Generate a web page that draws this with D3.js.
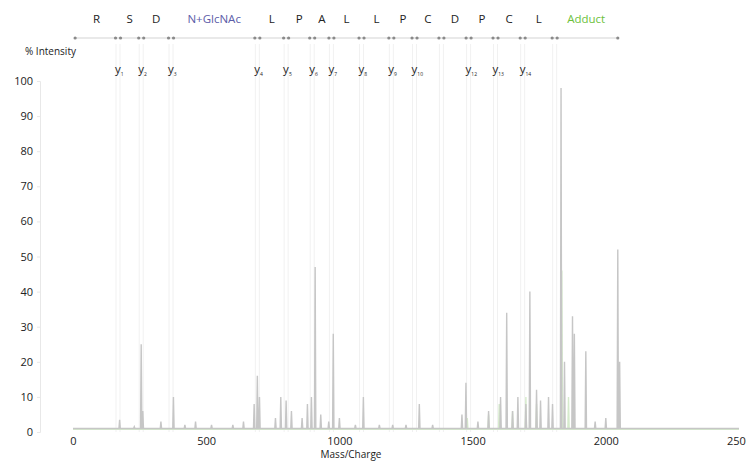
<!DOCTYPE html>
<html>
<head>
<meta charset="utf-8">
<script src="https://cdn.jsdelivr.net/npm/d3@7"></script>
<style>
  body { margin: 0; background: #fff; }
  text { font-family: "Open Sans", "Noto Sans", sans-serif; }
</style>
</head>
<body>
<div id="chart"></div>
<script>
// x / y ticks
const xTicks = [0, 500, 1000, 1500, 2000, 2500];
const yTicks = [0, 10, 20, 30, 40, 50, 60, 70, 80, 90, 100];

// sequence ladder: boundaries (m/z) between residues
const boundaries = [8, 169, 256, 368, 692, 800, 898, 970, 1083, 1195, 1282, 1383, 1485, 1586, 1688, 1808, 2045];
const residues = ['R', 'S', 'D', 'N+GlcNAc', 'L', 'P', 'A', 'L', 'L', 'P', 'C', 'D', 'P', 'C', 'L', 'Adduct'];

// y ions
const yIonNames = ['1', '2', '3', '4', '5', '6', '7', '8', '9', '10', '12', '13', '14'];
const yIonMz = [169, 256, 368, 692, 800, 898, 970, 1083, 1195, 1282, 1485, 1586, 1688];

// main spectrum (gray)
const peakMz = [175, 230, 256, 262, 330, 377, 420, 460, 520, 600, 640, 680, 692, 700, 760, 780, 800, 820, 860, 880, 895, 909, 930, 960, 977, 1000, 1060, 1090, 1150, 1200, 1250, 1300, 1350, 1460, 1475, 1520, 1560, 1605, 1628, 1650, 1670, 1700, 1715, 1740, 1755, 1785, 1800, 1832, 1845, 1875, 1882, 1925, 1960, 2000, 2045, 2052];
const peakInt = [3.5, 1.5, 25, 6, 3, 10, 2, 3, 2, 2, 3, 8, 16, 10, 4, 10, 9, 6, 4, 8, 10, 47, 5, 3, 28, 4, 2, 10, 2, 2, 2, 8, 2, 5, 14, 3, 6, 10, 34, 6, 10, 8, 40, 12, 9, 10, 8, 98, 20, 33, 28, 23, 3, 4, 52, 20];

// overlay spectrum (green)
const greenMz = [1480, 1560, 1600, 1650, 1700, 1740, 1835, 1860];
const greenInt = [4, 5, 8, 6, 10, 8, 46, 10];

const width = 746, height = 462;
const svg = d3.select('#chart').append('svg').attr('width', width).attr('height', height);

const x = d3.scaleLinear().domain([0, 2500]).range([73, 739]);
const y = d3.scaleLinear().domain([0, 100]).range([432, 81]);

// faint y axis line + ticks
const yAxis = svg.append('g').attr('transform', 'translate(40,0)')
  .call(d3.axisLeft(y).tickValues(yTicks).tickSize(3).tickPadding(4));
yAxis.select('.domain').attr('stroke', '#e8e8e8');
yAxis.selectAll('.tick line').attr('stroke', '#e8e8e8');
yAxis.selectAll('.tick text').attr('fill', '#222').attr('font-size', 11)
  .style('font-family', '"Open Sans", sans-serif');

// x tick labels (no visible axis line)
const xAxis = svg.append('g').attr('transform', 'translate(0,434)')
  .call(d3.axisBottom(x).tickValues(xTicks).tickFormat(d3.format('d')).tickSize(0).tickPadding(3));
xAxis.select('.domain').remove();
xAxis.selectAll('.tick text').attr('fill', '#222').attr('font-size', 11)
  .style('font-family', '"Open Sans", sans-serif');

svg.append('text').attr('x', 25).attr('y', 55).attr('font-size', 10).attr('fill', '#222').text('% Intensity');
svg.append('text').attr('x', 351).attr('y', 458).attr('text-anchor', 'middle').attr('font-size', 10).attr('fill', '#222').text('Mass/Charge');

// guide lines from ladder markers down
const guides = svg.append('g');
boundaries.slice(1, -1).forEach(m => {
  [-2, 2].forEach(dx => {
    guides.append('line')
      .attr('x1', x(m) + dx).attr('x2', x(m) + dx)
      .attr('y1', 44).attr('y2', y(0))
      .attr('stroke', '#f1f1f1').attr('stroke-width', 1);
  });
});

// spectrum paths
function spectrumPoints(mz, inten, base) {
  const pts = [[0, base]];
  mz.forEach((m, i) => {
    pts.push([m - 2.5, base], [m, inten[i]], [m + 2.5, base]);
  });
  pts.push([2500, base]);
  return pts;
}
const line = d3.line().x(d => x(d[0])).y(d => y(d[1]));

svg.append('path')
  .attr('d', line(spectrumPoints(greenMz, greenInt, 0.8)))
  .attr('fill', 'none').attr('stroke', '#d6ebcc').attr('stroke-width', 1.4);

svg.append('path')
  .attr('d', line(spectrumPoints(peakMz, peakInt, 1)))
  .attr('fill', 'none').attr('stroke', '#c6c6c6').attr('stroke-width', 1.4);

// sequence ladder
const ladderY = 38;
svg.append('line')
  .attr('x1', x(boundaries[0])).attr('x2', x(boundaries[boundaries.length - 1]))
  .attr('y1', ladderY).attr('y2', ladderY)
  .attr('stroke', '#d4d4d4').attr('stroke-width', 1.2);

boundaries.forEach((m, i) => {
  const ends = i === 0 || i === boundaries.length - 1;
  const offs = ends ? [0] : [-2.5, 2.5];
  offs.forEach(dx => {
    svg.append('circle').attr('cx', x(m) + dx).attr('cy', ladderY).attr('r', 1.6).attr('fill', '#8a8a8a');
  });
});

residues.forEach((r, i) => {
  const mid = (boundaries[i] + boundaries[i + 1]) / 2;
  let col = '#222';
  if (r === 'N+GlcNAc') col = '#5b5ca8';
  if (r === 'Adduct') col = '#6cbf3c';
  svg.append('text').attr('x', x(mid)).attr('y', 23).attr('text-anchor', 'middle')
    .attr('font-size', 11.5).attr('fill', col).text(r);
});

yIonNames.forEach((n, i) => {
  const t = svg.append('text').attr('x', x(yIonMz[i]) - 3).attr('y', 73)
    .attr('font-size', 11.5).attr('fill', '#222');
  t.append('tspan').text('y');
  t.append('tspan').attr('font-size', 5).attr('dy', 3).text(n);
});
</script>
</body>
</html>
